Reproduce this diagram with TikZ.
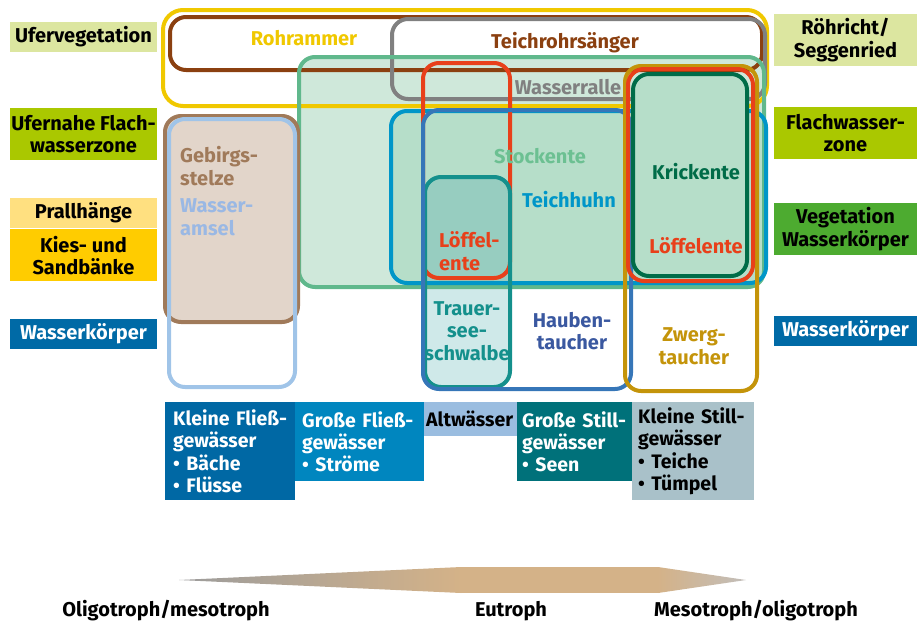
\documentclass[tikz,border=0pt]{standalone}
\usepackage{fontspec}
\setmainfont{Fira Sans}
\usetikzlibrary{positioning}

% Farben der Lebensraeume
\definecolor{uferc}{HTML}{DCE6A0}
\definecolor{flachc}{HTML}{AAC800}
\definecolor{prallc}{HTML}{FFE080}
\definecolor{kiesc}{HTML}{FFCC00}
\definecolor{wasserc}{HTML}{006AA6}
\definecolor{vegwkc}{HTML}{4DAB30}
\definecolor{kleinflc}{HTML}{0068A4}
\definecolor{grossflc}{HTML}{0086BF}
\definecolor{altwc}{HTML}{9ABDE0}
\definecolor{grossstc}{HTML}{00717A}
\definecolor{kleinstc}{HTML}{A9C1C9}
% Farben der Arten
\definecolor{rohrc}{HTML}{F0C800}
\definecolor{teichrc}{HTML}{8B4010}
\definecolor{rallec}{HTML}{808080}
\definecolor{stockc}{HTML}{60B88C}
\definecolor{stockfill}{HTML}{CFE8DA}
\definecolor{stocktext}{HTML}{6CC092}
\definecolor{huhnc}{HTML}{0096C8}
\definecolor{huhnfill}{HTML}{B6DEC9}
\definecolor{haubenc}{HTML}{3676B8}
\definecolor{haubentext}{HTML}{3A58A0}
\definecolor{loeffelc}{HTML}{E8401A}
\definecolor{trauerc}{HTML}{14908C}
\definecolor{trauerfill}{HTML}{CFE9E9}
\definecolor{trauerdark}{HTML}{97CDC0}
\definecolor{zwergc}{HTML}{C4940A}
\definecolor{krickc}{HTML}{006C48}
\definecolor{gebirgsc}{HTML}{A07A5A}
\definecolor{gebirgsfill}{HTML}{E2D5CA}
\definecolor{amselc}{HTML}{A0C4E8}
\definecolor{amseltext}{HTML}{9AB8E4}
\definecolor{axisgray}{HTML}{9C9C9C}
\definecolor{axistan}{HTML}{D4B288}
\definecolor{axislight}{HTML}{C2BEBA}

\newcommand{\labfont}{\bfseries\fontsize{20}{22.5}\selectfont}
\newcommand{\boxfont}{\bfseries\fontsize{19.5}{22.3}\selectfont}

\tikzset{
  zone/.style={rectangle, inner sep=0pt, align=center, font=\labfont},
  water/.style={rectangle, anchor=north west, inner xsep=7pt, inner ysep=0pt, align=left, font=\boxfont},
  habitat/.style={line width=4pt, rounded corners=16pt},
  species/.style={inner sep=0pt, align=center, font=\labfont},
  trophy/.style={inner sep=0pt, font=\bfseries\fontsize{20}{22}\selectfont},
}

\begin{document}
\begin{tikzpicture}[x=1pt,y=-1pt]
        \useasboundingbox (0,0) rectangle (917,621);
        %
        % Zonen links
        \node (ufer) at (83.5,37) [zone,fill=uferc,minimum width=147,minimum height=30] {Ufervegetation};
        \node (ufernah) at (83.5,134) [zone,fill=flachc,minimum width=147,minimum height=52] {Ufernahe Flach-\\wasserzone};
        \node (prall) at (83.5,213) [zone,fill=prallc,minimum width=147,minimum height=30] {Prallhänge};
        \node (kies) [zone,fill=kiesc,minimum width=147,minimum height=52,below=1pt of prall] {Kies- und\\Sandbänke};
        \node (wasserl) at (83.5,334) [zone,fill=wasserc,text=white,minimum width=147,minimum height=30] {Wasserkörper};
        % Zonen rechts
        \node (roehricht) at (845.5,40) [zone,fill=uferc,minimum width=143,minimum height=52] {Röhricht/\\Seggenried};
        \node (flach) at (845.5,133) [zone,fill=flachc,minimum width=143,minimum height=52] {Flachwasser-\\zone};
        \node (vegwk) at (845.5,229) [zone,fill=vegwkc,minimum width=143,minimum height=52] {Vegetation\\Wasserkörper};
        \node (wasserr) at (845.5,331) [zone,fill=wasserc,text=white,minimum width=143,minimum height=30] {Wasserkörper};
        %
        % Flaechen
        \fill [stockfill,rounded corners=16pt] (299,57) rectangle (764,287);
        \fill [huhnfill,rounded corners=16pt] (391,111) rectangle (766,283);
        \fill [trauerfill,rounded corners=16pt] (425,177) rectangle (510,387);
        \begin{scope}
          \clip [rounded corners=16pt] (391,111) rectangle (766,283);
          \fill [trauerdark,rounded corners=16pt] (425,177) rectangle (510,387);
        \end{scope}
        \fill [gebirgsfill,rounded corners=16pt] (165,116) rectangle (298,322);
        %
        % Verbreitung der Arten
        \draw [habitat,rohrc,rounded corners=20pt] (163,10) rectangle (767,106);
        \draw [habitat,teichrc] (170,17) rectangle (762,70);
        \draw [habitat,rallec] (392,19) rectangle (765,99);
        \draw [habitat,stockc] (299,57) rectangle (764,287);
        \draw [habitat,huhnc] (391,111) rectangle (766,283);
        \draw [habitat,loeffelc] (423,63) rectangle (510,278);
        \draw [habitat,trauerc] (425,177) rectangle (510,387);
        \draw [habitat,haubenc] (423,110) rectangle (631,389);
        \draw [habitat,gebirgsc] (165,116) rectangle (298,322);
        \draw [habitat,amselc] (169,119) rectangle (295,387);
        \fill [huhnfill,rounded corners=14pt] (633,74) rectangle (747,276);
        \draw [habitat,zwergc] (625,66) rectangle (757,391);
        \draw [habitat,loeffelc] (628,69) rectangle (753,281);
        \draw [habitat,krickc] (633,74) rectangle (747,276);
        %
        % Namen der Arten
        \node (rohrammer) at (304,38) [species,text=rohrc] {Rohrammer};
        \node (teichrohr) at (565,43) [species,text=teichrc] {Teichrohrsänger};
        \node (ralle) at (568,87) [species,text=rallec] {Wasserralle};
        \node (stockente) at (540,156) [species,text=stocktext] {Stockente};
        \node (teichhuhn) at (569,200) [species,text=huhnc] {Teichhuhn};
        \node (krickente) at (696,172) [species,text=krickc] {Krickente};
        \node (loeffel) at (696,246) [species,text=loeffelc] {Löffelente};
        \node (loeffelk) at (439,251) [species,text=loeffelc,align=left,anchor=west] {Löffel-\\ente};
        \node (trauer) at (467,331) [species,text=trauerc] {Trauer-\\see-\\schwalbe};
        \node (hauben) at (572,331) [species,text=haubentext] {Hauben-\\taucher};
        \node (zwerg) at (694,346) [species,text=zwergc] {Zwerg-\\taucher};
        \node (gebirgs) at (180,166) [species,text=gebirgsc,align=left,anchor=west] {Gebirgs-\\stelze};
        \node (amsel) at (180,217) [species,text=amseltext,align=left,anchor=west] {Wasser-\\amsel};
        %
        % Gewaessertypen
        \node (kleinfl) at (165,402) [water,fill=kleinflc,text=white,inner xsep=8pt,text width=114,minimum height=98] {Kleine Fließ-\\gewässer\\• Bäche\\• Flüsse};
        \node (grossfl) at (295,402) [water,fill=grossflc,text=white,text width=115,minimum height=79] {Große Fließ-\\gewässer\\• Ströme};
        \node (altw) at (424,402) [water,fill=altwc,inner xsep=2pt,text width=89,minimum height=34] {Altwässer};
        \node (grossst) at (517,402) [water,fill=grossstc,text=white,inner xsep=5pt,text width=105,minimum height=79] {Große Still-\\gewässer\\• Seen};
        \node (kleinst) at (632,402) [water,fill=kleinstc,inner xsep=6pt,text width=110,minimum height=98] {Kleine Still-\\gewässer\\• Teiche\\• Tümpel};
        %
        % Trophiegradient
        \coordinate (tipl) at (179,580);
        \coordinate (tipr) at (746,580);
        \shade [left color=axisgray,right color=axistan] (tipl) -- (461,567) -- (461,593) -- cycle;
        \fill [axistan] (460,567) rectangle (659,593);
        \shade [left color=axistan,right color=axislight] (658,567) -- (tipr) -- (658,593) -- cycle;
        \node (oligo) at (166,611) [trophy] {Oligotroph/mesotroph};
        \node (eutroph) at (511,611) [trophy] {Eutroph};
        \node (meso) at (756,611) [trophy] {Mesotroph/oligotroph};
        %
    \end{tikzpicture}
\end{document}
